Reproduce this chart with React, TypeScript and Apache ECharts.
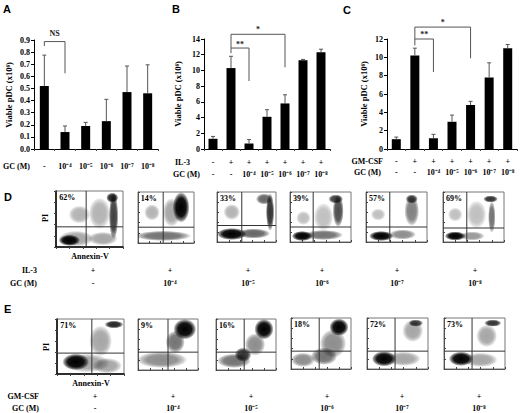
import React, { useEffect, useRef } from "react";
import * as echarts from "echarts";

const SERIF = '"Liberation Serif", "Times New Roman", serif';
const SANS = '"Liberation Sans", Arial, sans-serif';

// ---------- Panel A ----------
const aGC = ["-", "10⁻⁴", "10⁻⁵", "10⁻⁶", "10⁻⁷", "10⁻⁸"];
const aValues = [0.52, 0.14, 0.19, 0.23, 0.47, 0.46];
const aErrTop = [0.775, 0.19, 0.22, 0.41, 0.685, 0.695];
// [fromBar, toBar, top, leftBottom, rightBottom, labelY]
const aBrackets = [[0, 1, 0.887, 0.85, 0.625, 0.95]];
const aBracketText = ["NS"];

// ---------- Panel B ----------
const bIL3 = ["-", "+", "+", "+", "+", "+", "+"];
const bGC = ["-", "-", "10⁻⁴", "10⁻⁵", "10⁻⁶", "10⁻⁷", "10⁻⁸"];
const bValues = [1.3, 10.3, 0.7, 4.1, 5.8, 11.3, 12.3];
const bErrTop = [1.6, 11.8, 1.2, 5.0, 6.9, 11.4, 12.7];
const bBrackets = [
  [1, 4, 14.6, 12.85, 10.4, 15.2],
  [1, 2, 12.85, 12.2, 8.65, 13.3],
];
const bBracketText = ["*", "**"];

// ---------- Panel C ----------
const cGMCSF = ["-", "+", "+", "+", "+", "+", "+"];
const cGC = ["-", "-", "10⁻⁴", "10⁻⁵", "10⁻⁶", "10⁻⁷", "10⁻⁸"];
const cValues = [1.07, 10.2, 1.17, 2.97, 4.8, 7.8, 11.0];
const cErrTop = [1.3, 11.0, 1.6, 3.7, 5.2, 9.4, 11.4];
const cBrackets = [
  [1, 4, 13.3, 12.0, 9.9, 13.85],
  [1, 2, 12.0, 11.3, 8.4, 12.5],
];
const cBracketText = ["*", "**"];

// ---------- Panel D (IL-3) ----------
const dPercent = ["62%", "14%", "33%", "39%", "57%", "69%"];
const dIL3 = ["+", "+", "+", "+", "+", "+"];
const dGC = ["-", "10⁻⁴", "10⁻⁵", "10⁻⁶", "10⁻⁷", "10⁻⁸"];
// quadrant gates [Annexin-V cut, PI cut] on 0-100 scale
const dGates = [[45, 36], [45, 31], [42, 33], [38, 30], [39, 30], [39, 28]];
// cell clusters [annexin, PI, spreadX, spreadY, density]
const dClusters = [
  [[30, 15, 26, 14, 0.35], [20, 12, 16, 10, 1], [70, 15, 22, 12, 0.35], [35, 58, 16, 16, 0.3], [65, 60, 16, 28, 0.3], [86, 55, 7, 42, 0.75], [84, 88, 9, 9, 0.85]],
  [[45, 14, 50, 10, 0.55], [25, 60, 14, 16, 0.3], [60, 60, 16, 28, 0.35], [77, 70, 15, 30, 1]],
  [[25, 16, 25, 12, 1], [62, 17, 28, 10, 0.6], [25, 60, 14, 16, 0.3], [90, 60, 7, 38, 0.8], [80, 86, 14, 11, 0.6]],
  [[20, 12, 17, 10, 1], [55, 14, 32, 10, 0.55], [22, 48, 12, 14, 0.25], [55, 50, 16, 28, 0.25], [79, 62, 9, 32, 0.7], [75, 86, 12, 9, 0.75]],
  [[25, 12, 20, 10, 1], [60, 15, 22, 10, 0.45], [20, 55, 12, 12, 0.25], [75, 62, 12, 30, 0.5], [75, 86, 10, 9, 0.75]],
  [[20, 12, 17, 9, 1], [48, 12, 20, 9, 0.4], [20, 55, 12, 14, 0.25], [55, 55, 16, 28, 0.25], [80, 50, 6, 32, 0.55], [78, 86, 12, 7, 0.8]],
];

// ---------- Panel E (GM-CSF) ----------
const ePercent = ["71%", "9%", "16%", "18%", "72%", "73%"];
const eGMCSF = ["+", "+", "+", "+", "+", "+"];
const eGC = ["-", "10⁻⁴", "10⁻⁵", "10⁻⁶", "10⁻⁷", "10⁻⁸"];
const eGates = [[52, 38], [50, 35], [47, 35], [47, 35], [46, 35], [46, 35]];
const eClusters = [
  [[45, 20, 34, 17, 0.35], [28, 22, 20, 15, 1], [75, 15, 22, 14, 0.35], [65, 60, 17, 28, 0.35], [85, 90, 14, 7, 0.85]],
  [[40, 20, 42, 16, 0.45], [62, 55, 16, 22, 0.55], [78, 80, 19, 20, 1]],
  [[30, 18, 28, 14, 0.55], [45, 30, 14, 14, 0.8], [65, 50, 17, 22, 0.45], [80, 80, 16, 20, 1]],
  [[20, 18, 20, 14, 0.45], [55, 25, 22, 17, 0.55], [70, 50, 22, 28, 0.45], [80, 82, 16, 17, 1]],
  [[60, 20, 28, 14, 0.35], [28, 20, 20, 15, 1], [75, 75, 17, 22, 0.35], [80, 90, 12, 7, 0.75]],
  [[60, 18, 28, 14, 0.35], [28, 20, 20, 14, 1], [70, 65, 17, 22, 0.35], [80, 90, 14, 7, 0.8]],
];

// ---------- layout (pixels) ----------
const barGrids = [
  { left: 34, top: 40, width: 124, height: 109 },
  { left: 204, top: 39, width: 126, height: 110 },
  { left: 387, top: 39, width: 130, height: 110 },
];
const dRects = [
  [56, 191, 67, 56], [138, 192, 56, 51], [217, 192, 59, 50],
  [290, 192, 61, 50], [366, 192, 61, 50], [443, 192, 61, 50],
];
const eRects = [
  [57, 319, 67, 55], [138, 319, 60, 51], [216, 319, 60, 51],
  [291, 318, 60, 51], [367, 318, 61, 51], [444, 318, 61, 51],
];
const dLabelX = [93, 170, 248, 322, 397, 475];
const eLabelX = [95, 173, 251, 327, 402, 479];

function txt(text: string, x: number, y: number, size: number, align = "center", opts: any = {}) {
  const family = opts.family || SERIF;
  return {
    type: "text",
    x,
    y,
    rotation: opts.rotation || 0,
    silent: true,
    style: {
      text,
      fill: "#000",
      font: `bold ${size}px ${family}`,
      fontSize: size,
      fontWeight: "bold",
      fontFamily: family,
      align,
      textAlign: align,
      verticalAlign: "middle",
      textVerticalAlign: "middle",
    },
  };
}

function buildOption() {
  const grid: any[] = [];
  const xAxis: any[] = [];
  const yAxis: any[] = [];
  const series: any[] = [];
  const graphic: any[] = [];

  const tickFont = { fontFamily: SERIF, fontWeight: "bold", color: "#000" };

  const barPanel = (
    g: number,
    values: number[],
    errTop: number[],
    brackets: number[][],
    bracketText: string[],
    labelFn: (i: number) => string,
    yMax: number,
    yInt: number,
    fmt: (v: number) => string,
    margin: number,
    lineHeight: number
  ) => {
    grid.push({ ...barGrids[g], containLabel: false });
    xAxis.push({
      gridIndex: g,
      type: "category",
      data: values.map((_, i) => String(i)),
      axisLine: { show: true, lineStyle: { color: "#000", width: 1 } },
      axisTick: { show: true, length: 2, lineStyle: { color: "#444" } },
      axisLabel: {
        interval: 0,
        margin,
        fontSize: 8,
        lineHeight,
        ...tickFont,
        formatter: (_v: string, i: number) => labelFn(i),
      },
      splitLine: { show: false },
    });
    yAxis.push({
      gridIndex: g,
      type: "value",
      min: 0,
      max: yMax,
      interval: yInt,
      axisLine: { show: true, lineStyle: { color: "#000", width: 1 } },
      axisTick: { show: true, length: 3, lineStyle: { color: "#000" } },
      axisLabel: { margin: 4, fontSize: 8, ...tickFont, formatter: fmt },
      splitLine: { show: false },
    });
    series.push({
      type: "bar",
      xAxisIndex: g,
      yAxisIndex: g,
      data: values,
      barWidth: 9,
      itemStyle: { color: "#000" },
      silent: true,
      z: 2,
    });
    series.push({
      type: "custom",
      xAxisIndex: g,
      yAxisIndex: g,
      clip: false,
      silent: true,
      z: 3,
      data: values.map((v, i) => [i, v, errTop[i]]),
      encode: { x: 0, y: [1, 2] },
      renderItem: (_p: any, api: any) => {
        const p0 = api.coord([api.value(0), api.value(1)]);
        const p1 = api.coord([api.value(0), api.value(2)]);
        return {
          type: "group",
          children: [
            { type: "line", shape: { x1: p0[0], y1: p0[1], x2: p1[0], y2: p1[1] }, style: { stroke: "#555", lineWidth: 1 } },
            { type: "line", shape: { x1: p1[0] - 2, y1: p1[1], x2: p1[0] + 2, y2: p1[1] }, style: { stroke: "#555", lineWidth: 1 } },
          ],
        };
      },
    });
    series.push({
      type: "custom",
      xAxisIndex: g,
      yAxisIndex: g,
      clip: false,
      silent: true,
      z: 4,
      data: brackets,
      encode: { x: [0, 1], y: [2, 3, 4, 5] },
      renderItem: (p: any, api: any) => {
        const i1 = api.value(0);
        const i2 = api.value(1);
        const top = api.value(2);
        const pL = api.coord([i1, api.value(3)]);
        const pLT = api.coord([i1, top]);
        const pRT = api.coord([i2, top]);
        const pR = api.coord([i2, api.value(4)]);
        const t1 = api.coord([i1, api.value(5)]);
        const t2 = api.coord([i2, api.value(5)]);
        return {
          type: "group",
          children: [
            { type: "polyline", shape: { points: [pL, pLT, pRT, pR] }, style: { stroke: "#555", lineWidth: 1, fill: null } },
            {
              type: "text",
              x: (t1[0] + t2[0]) / 2,
              y: t1[1],
              style: {
                text: bracketText[p.dataIndex],
                fill: "#222",
                font: `bold 8px ${SERIF}`,
                fontSize: 8,
                fontWeight: "bold",
                fontFamily: SERIF,
                align: "center",
                textAlign: "center",
                verticalAlign: "middle",
                textVerticalAlign: "middle",
              },
            },
          ],
        };
      },
    });
  };

  barPanel(0, aValues, aErrTop, aBrackets, aBracketText, (i) => aGC[i], 0.9, 0.1, (v) => v.toFixed(1), 13, 9);
  barPanel(1, bValues, bErrTop, bBrackets, bBracketText, (i) => `${bIL3[i]}\n${bGC[i]}`, 14, 2, (v) => String(v), 7, 12);
  barPanel(2, cValues, cErrTop, cBrackets, cBracketText, (i) => `${cGMCSF[i]}\n${cGC[i]}`, 12, 2, (v) => String(v), 6.5, 11);

  const dotPanel = (rect: number[], clusters: number[][], gate: number[], pct: string, first: boolean) => {
    const g = grid.length;
    grid.push({
      left: rect[0],
      top: rect[1],
      width: rect[2],
      height: rect[3],
      show: true,
      borderColor: "#777",
      borderWidth: 1,
      backgroundColor: "#fff",
    });
    const axisCommon = {
      gridIndex: g,
      type: "value",
      min: 0,
      max: 100,
      interval: 20,
      axisLine: { show: true, lineStyle: { color: first ? "#000" : "#555", width: first ? 1.5 : 1 } },
      axisTick: { show: true, inside: !first, length: 2, lineStyle: { color: "#444" } },
      axisLabel: { show: false },
      splitLine: { show: false },
    };
    xAxis.push({ ...axisCommon });
    yAxis.push({ ...axisCommon });
    series.push({
      type: "custom",
      xAxisIndex: g,
      yAxisIndex: g,
      clip: true,
      silent: true,
      z: 2,
      data: clusters,
      encode: { x: 0, y: 1 },
      renderItem: (_p: any, api: any) => {
        const c = api.coord([api.value(0), api.value(1)]);
        const s = api.size([api.value(2), api.value(3)]);
        const a = api.value(4);
        return {
          type: "circle",
          x: c[0],
          y: c[1],
          scaleX: s[0] / 10,
          scaleY: s[1] / 10,
          shape: { cx: 0, cy: 0, r: 10 },
          style: {
            fill: new echarts.graphic.RadialGradient(0.5, 0.5, 0.5, [
              { offset: 0, color: `rgba(0,0,0,${a})` },
              { offset: 0.6, color: `rgba(0,0,0,${a * 0.92})` },
              { offset: 0.85, color: `rgba(0,0,0,${a * 0.45})` },
              { offset: 1, color: "rgba(0,0,0,0)" },
            ]),
            stroke: null,
          },
        };
      },
    });
    series.push({
      type: "custom",
      xAxisIndex: g,
      yAxisIndex: g,
      clip: false,
      silent: true,
      z: 5,
      data: [gate],
      encode: { x: 0, y: 1 },
      renderItem: (_p: any, api: any) => {
        const v = api.value(0);
        const h = api.value(1);
        const vb = api.coord([v, 0]);
        const vt = api.coord([v, 100]);
        const hl = api.coord([0, h]);
        const hr = api.coord([100, h]);
        const lab = api.coord([5, 96]);
        return {
          type: "group",
          children: [
            { type: "line", shape: { x1: vb[0], y1: vb[1], x2: vt[0], y2: vt[1] }, style: { stroke: "#333", lineWidth: 1 } },
            { type: "line", shape: { x1: hl[0], y1: hl[1], x2: hr[0], y2: hr[1] }, style: { stroke: "#333", lineWidth: 1 } },
            {
              type: "text",
              x: lab[0],
              y: lab[1],
              style: {
                text: pct,
                fill: "#000",
                font: `bold 8px ${SERIF}`,
                fontSize: 8,
                fontWeight: "bold",
                fontFamily: SERIF,
                align: "left",
                textAlign: "left",
                verticalAlign: "top",
                textVerticalAlign: "top",
                backgroundColor: "#fff",
              },
            },
          ],
        };
      },
    });
  };

  dRects.forEach((r, k) => dotPanel(r, dClusters[k], dGates[k], dPercent[k], k === 0));
  eRects.forEach((r, k) => dotPanel(r, eClusters[k], eGates[k], ePercent[k], k === 0));

  // panel letters
  graphic.push(txt("A", 3, 9, 11, "left", { family: SANS }));
  graphic.push(txt("B", 172, 9, 11, "left", { family: SANS }));
  graphic.push(txt("C", 343, 10, 11, "left", { family: SANS }));
  graphic.push(txt("D", 4, 197, 11, "left", { family: SANS }));
  graphic.push(txt("E", 4, 309, 11, "left", { family: SANS }));

  // y axis names
  const yName = "Viable pDC (x10⁶)";
  graphic.push(txt(yName, 9, 95, 8.5, "center", { rotation: Math.PI / 2 }));
  graphic.push(txt(yName, 178, 94, 8.5, "center", { rotation: Math.PI / 2 }));
  graphic.push(txt(yName, 364, 94, 8.5, "center", { rotation: Math.PI / 2 }));

  // bar panel row names
  graphic.push(txt("GC (M)", 3, 166.5, 8, "left"));
  graphic.push(txt("IL-3", 175, 162, 8, "left"));
  graphic.push(txt("GC (M)", 173, 174, 8, "left"));
  graphic.push(txt("GM-CSF", 383, 161, 8, "right"));
  graphic.push(txt("GC (M)", 381, 172, 8, "right"));

  // dot plot axis names
  graphic.push(txt("PI", 45, 218, 8, "center", { rotation: Math.PI / 2 }));
  graphic.push(txt("Annexin-V", 90, 256, 8, "center"));
  graphic.push(txt("PI", 46, 347, 8, "center", { rotation: Math.PI / 2 }));
  graphic.push(txt("Annexin-V", 91, 383, 8, "center"));

  // dot plot condition rows
  graphic.push(txt("IL-3", 37, 270, 8, "right"));
  graphic.push(txt("GC (M)", 37, 283, 8, "right"));
  dLabelX.forEach((x, k) => {
    graphic.push(txt(dIL3[k], x, 270, 8, "center"));
    graphic.push(txt(dGC[k], x, 283, 8, "center"));
  });
  graphic.push(txt("GM-CSF", 39, 396, 8, "right"));
  graphic.push(txt("GC (M)", 39, 408, 8, "right"));
  eLabelX.forEach((x, k) => {
    graphic.push(txt(eGMCSF[k], x, 396, 8, "center"));
    graphic.push(txt(eGC[k], x, 408, 8, "center"));
  });

  return {
    animation: false,
    backgroundColor: "#fff",
    textStyle: { fontFamily: SERIF },
    grid,
    xAxis,
    yAxis,
    series,
    graphic: { elements: graphic },
  };
}

export default function App() {
  const ref = useRef<HTMLDivElement>(null);
  useEffect(() => {
    if (!ref.current) return;
    const chart = echarts.init(ref.current, undefined, { renderer: "svg" });
    chart.setOption(buildOption() as any);
    return () => chart.dispose();
  }, []);
  return (
    <div
      ref={ref}
      style={{ position: "fixed", left: 0, top: 0, width: 520, height: 413, background: "#fff" }}
    />
  );
}
